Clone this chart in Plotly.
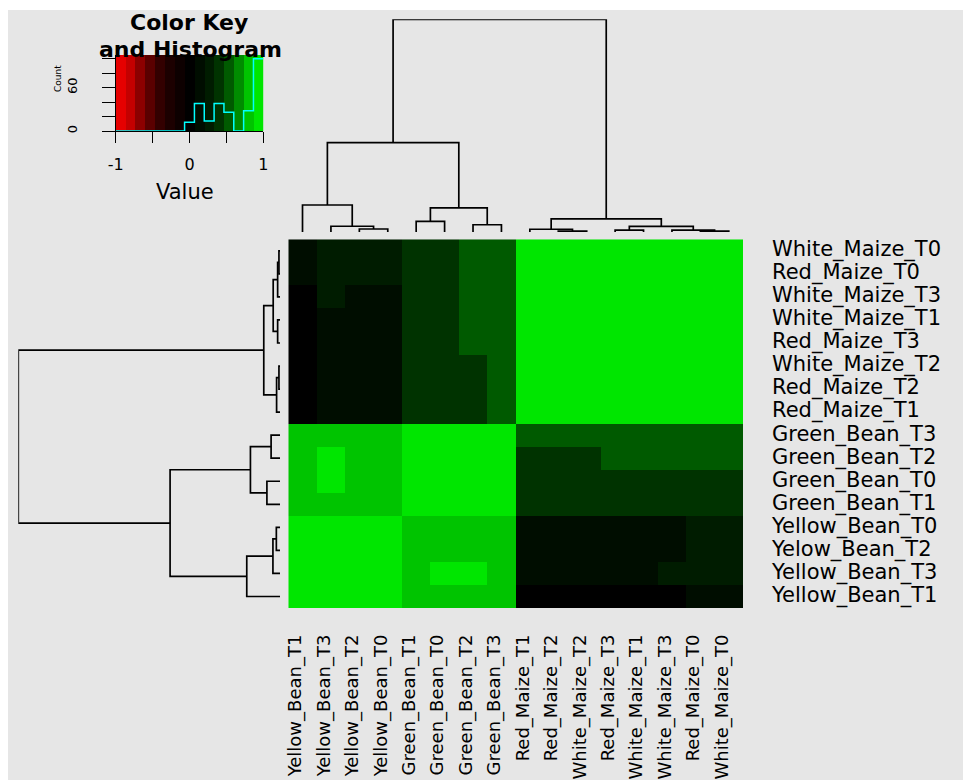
import numpy as np
import plotly.graph_objects as go

# Samples along the columns, left to right (also the dendrogram leaf order)
col_labels = [
    "Yellow_Bean_T1", "Yellow_Bean_T3", "Yellow_Bean_T2", "Yellow_Bean_T0",
    "Green_Bean_T1", "Green_Bean_T0", "Green_Bean_T2", "Green_Bean_T3",
    "Red_Maize_T1", "Red_Maize_T2", "White_Maize_T2", "Red_Maize_T3",
    "White_Maize_T1", "White_Maize_T3", "Red_Maize_T0", "White_Maize_T0",
]

# Row labels as printed, top to bottom
row_labels = [
    "White_Maize_T0", "Red_Maize_T0", "White_Maize_T3", "White_Maize_T1",
    "Red_Maize_T3", "White_Maize_T2", "Red_Maize_T2", "Red_Maize_T1",
    "Green_Bean_T3", "Green_Bean_T2", "Green_Bean_T0", "Green_Bean_T1",
    "Yellow_Bean_T0", "Yelow_Bean_T2", "Yellow_Bean_T3", "Yellow_Bean_T1",
]

# Pairwise correlations, both dimensions in col_labels order
corr = [
    [1.00, 0.90, 0.89, 0.90, 0.80, 0.81, 0.79, 0.78, 0.02, 0.03, 0.04, 0.05, 0.04, 0.06, 0.09, 0.10],
    [0.90, 1.00, 0.97, 0.96, 0.84, 0.88, 0.89, 0.82, 0.12, 0.13, 0.14, 0.16, 0.17, 0.21, 0.23, 0.24],
    [0.89, 0.97, 1.00, 0.99, 0.79, 0.80, 0.81, 0.77, 0.10, 0.11, 0.12, 0.14, 0.15, 0.18, 0.21, 0.22],
    [0.90, 0.96, 0.99, 1.00, 0.78, 0.79, 0.80, 0.76, 0.11, 0.12, 0.13, 0.15, 0.16, 0.19, 0.22, 0.23],
    [0.80, 0.84, 0.79, 0.78, 1.00, 0.95, 0.90, 0.89, 0.37, 0.38, 0.39, 0.40, 0.41, 0.42, 0.43, 0.44],
    [0.81, 0.88, 0.80, 0.79, 0.95, 1.00, 0.91, 0.90, 0.38, 0.39, 0.40, 0.42, 0.42, 0.44, 0.45, 0.46],
    [0.79, 0.89, 0.81, 0.80, 0.90, 0.91, 1.00, 0.97, 0.43, 0.44, 0.45, 0.48, 0.49, 0.51, 0.52, 0.53],
    [0.78, 0.82, 0.77, 0.76, 0.89, 0.90, 0.97, 1.00, 0.49, 0.50, 0.51, 0.53, 0.54, 0.55, 0.56, 0.57],
    [0.02, 0.12, 0.10, 0.11, 0.37, 0.38, 0.43, 0.49, 1.00, 0.99, 0.99, 0.94, 0.94, 0.94, 0.93, 0.93],
    [0.03, 0.13, 0.11, 0.12, 0.38, 0.39, 0.44, 0.50, 0.99, 1.00, 0.99, 0.94, 0.95, 0.94, 0.94, 0.94],
    [0.04, 0.14, 0.12, 0.13, 0.39, 0.40, 0.45, 0.51, 0.99, 0.99, 1.00, 0.95, 0.95, 0.95, 0.94, 0.94],
    [0.05, 0.16, 0.14, 0.15, 0.40, 0.42, 0.48, 0.53, 0.94, 0.94, 0.95, 1.00, 0.99, 0.97, 0.97, 0.97],
    [0.04, 0.17, 0.15, 0.16, 0.41, 0.42, 0.49, 0.54, 0.94, 0.95, 0.95, 0.99, 1.00, 0.98, 0.97, 0.97],
    [0.06, 0.21, 0.18, 0.19, 0.42, 0.44, 0.51, 0.55, 0.94, 0.94, 0.95, 0.97, 0.98, 1.00, 0.99, 0.99],
    [0.09, 0.23, 0.21, 0.22, 0.43, 0.45, 0.52, 0.56, 0.93, 0.94, 0.94, 0.97, 0.97, 0.99, 1.00, 0.99],
    [0.10, 0.24, 0.22, 0.23, 0.44, 0.46, 0.53, 0.57, 0.93, 0.94, 0.94, 0.97, 0.97, 0.99, 0.99, 1.00],
]

# Hierarchical clustering (scipy-style ids: 0-15 leaves, 16+ merged clusters)
merge_left = [2, 1, 0, 4, 6, 19, 18, 9, 8, 11, 14, 13, 25, 24, 22]
merge_right = [3, 16, 17, 5, 7, 20, 21, 10, 23, 12, 15, 26, 27, 28, 29]
merge_height = [0.014, 0.027, 0.127, 0.050, 0.034, 0.113, 0.420,
                0.004, 0.013, 0.009, 0.004, 0.009, 0.026, 0.062, 1.000]

# Red-black-green palette, one colour per break interval
key_colors = [
    "#e60000", "#c40000", "#8c0000", "#5a0000", "#330000", "#1c0000", "#0d0000",
    "#000000",
    "#000d00", "#001c00", "#003300", "#005a00", "#008c00", "#00c400", "#00e600",
]
key_ticks_x = [-1, -0.5, 0, 0.5, 1]
key_ticktext_x = ["-1", "", "0", "", "1"]
count_ticks = [0, 20, 40, 60, 80, 100]
count_ticktext = ["0", "", "", "60", "", ""]

FONT = "DejaVu Sans"
W, H = 963, 780


def fx(px):
    return px / W


def fy(py):
    return 1 - py / H


n = len(col_labels)
breaks = np.linspace(-1, 1, len(key_colors) + 1)

# stepped colourscale so each break interval gets a single flat colour
colorscale = []
for i, c in enumerate(key_colors):
    colorscale.append([i / len(key_colors), c])
    colorscale.append([(i + 1) / len(key_colors), c])

z = np.array(corr)


def dendro_lines(n_leaves):
    pos = {i: float(i) for i in range(n_leaves)}
    hgt = {i: 0.0 for i in range(n_leaves)}
    p_list, h_list = [], []
    for k, (a, b, h) in enumerate(zip(merge_left, merge_right, merge_height)):
        cid = n_leaves + k
        p_list += [pos[a], pos[a], pos[b], pos[b], None]
        h_list += [hgt[a], h, h, hgt[b], None]
        pos[cid] = (pos[a] + pos[b]) / 2
        hgt[cid] = h
    return p_list, h_list


dp, dh = dendro_lines(n)

fig = go.Figure()

# main heatmap
fig.add_trace(go.Heatmap(
    z=z, x=list(range(n)), y=list(range(n)),
    colorscale=colorscale, zmin=-1, zmax=1, showscale=False,
    xaxis="x", yaxis="y", hoverinfo="skip",
))

# column dendrogram
fig.add_trace(go.Scatter(
    x=dp, y=dh, mode="lines", line=dict(color="black", width=1.7),
    xaxis="x2", yaxis="y2", hoverinfo="skip", showlegend=False,
))

# row dendrogram
fig.add_trace(go.Scatter(
    x=dh, y=dp, mode="lines", line=dict(color="black", width=1.7),
    xaxis="x3", yaxis="y3", hoverinfo="skip", showlegend=False,
))

# colour key with histogram of the values
counts, _ = np.histogram(z.ravel(), bins=breaks)
key_top = counts.max() / 0.95
mids = (breaks[:-1] + breaks[1:]) / 2
fig.add_trace(go.Heatmap(
    z=[list(mids)], x=list(breaks), y=[0, key_top],
    colorscale=colorscale, zmin=-1, zmax=1, showscale=False,
    xaxis="x4", yaxis="y4", hoverinfo="skip",
))
fig.add_trace(go.Scatter(
    x=list(breaks), y=list(counts) + [counts[-1]], mode="lines",
    line=dict(color="#00ffff", width=1.5, shape="hv"),
    xaxis="x4", yaxis="y4", hoverinfo="skip", showlegend=False,
))

hm_x = [fx(288.3), fx(743.0)]
hm_y = [fy(608.0), fy(239.3)]
hidden = dict(showgrid=False, zeroline=False, showticklabels=False, ticks="",
              showline=False, automargin=False)

fig.update_layout(
    width=W, height=H, autosize=False,
    margin=dict(l=0, r=0, t=0, b=0, pad=0),
    paper_bgcolor="white", plot_bgcolor="rgba(0,0,0,0)",
    font=dict(family=FONT, color="black"),
    showlegend=False,
    xaxis=dict(domain=hm_x, range=[-0.5, n - 0.5], tickmode="array",
               tickvals=list(range(n)), ticktext=col_labels, tickangle=-90,
               side="bottom", ticks="", showgrid=False, zeroline=False,
               automargin=False,
               tickfont=dict(size=18, family=FONT),
               ticklabelstandoff=22, ticklabelshift=-7),
    yaxis=dict(domain=hm_y, range=[-0.5, n - 0.5], tickmode="array",
               tickvals=list(range(n)), ticktext=row_labels[::-1],
               side="right", anchor="x", ticks="", showgrid=False, zeroline=False,
               automargin=False,
               tickfont=dict(size=21, family=FONT), ticklabelstandoff=28,
               ticklabelshift=-2),
    xaxis2=dict(domain=hm_x, range=[-0.5, n - 0.5], anchor="y2", **hidden),
    yaxis2=dict(domain=[fy(232), fy(19.3)], range=[0, max(merge_height)], anchor="x2", **hidden),
    xaxis3=dict(domain=[fx(18.3), fx(280)], range=[max(merge_height), 0], anchor="y3", **hidden),
    yaxis3=dict(domain=hm_y, range=[-0.5, n - 0.5], anchor="x3", **hidden),
    xaxis4=dict(domain=[fx(115.7), fx(263.3)], range=[-1, 1], anchor="y4",
                tickmode="array", tickvals=key_ticks_x, ticktext=key_ticktext_x,
                ticks="outside", ticklen=11, tickwidth=1, tickcolor="black",
                showline=True, linecolor="black", linewidth=1,
                showgrid=False, zeroline=False, automargin=False,
                tickfont=dict(size=16, family=FONT), ticklabelstandoff=8),
    yaxis4=dict(domain=[fy(131), fy(55)], range=[0, key_top], anchor="x4",
                tickmode="array", tickvals=count_ticks, ticktext=count_ticktext,
                ticks="outside", ticklen=13, tickwidth=1, tickcolor="black",
                showline=True, linecolor="black", linewidth=1, tickangle=-90,
                showgrid=False, zeroline=False, automargin=False,
                tickfont=dict(size=13, family=FONT), ticklabelstandoff=20),
    shapes=[dict(type="rect", xref="paper", yref="paper",
                 x0=fx(8), x1=1, y0=0, y1=fy(10),
                 fillcolor="#e6e6e6", line=dict(width=0), layer="below")],
    annotations=[
        dict(text="Color Key", x=fx(189), y=fy(22), xref="paper", yref="paper",
             showarrow=False, xanchor="center", yanchor="middle",
             font=dict(size=22, family=FONT, weight="bold")),
        dict(text="and Histogram", x=fx(190), y=fy(50), xref="paper", yref="paper",
             showarrow=False, xanchor="center", yanchor="middle",
             font=dict(size=22, family=FONT, weight="bold")),
        dict(text="Value", x=fx(185), y=fy(192), xref="paper", yref="paper",
             showarrow=False, xanchor="center", yanchor="middle",
             font=dict(size=21, family=FONT)),
        dict(text="Count", x=fx(58), y=fy(79), xref="paper", yref="paper",
             showarrow=False, xanchor="center", yanchor="middle", textangle=-90,
             font=dict(size=9, family=FONT)),
    ],
)

fig.write_html("out.html", post_script="document.body.style.margin = '0';")
